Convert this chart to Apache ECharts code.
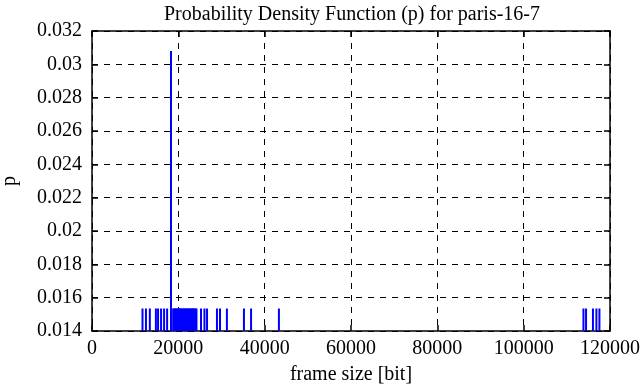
<!DOCTYPE html>
<html>
<head>
<meta charset="utf-8">
<script src="https://cdn.jsdelivr.net/npm/echarts@6/dist/echarts.min.js"></script>
<style>html,body{margin:0;padding:0;background:#fff}#c{width:641px;height:387px}</style>
</head>
<body>
<div id="c"></div>
<script>
// frame sizes [bit]
const frameSizes = [11700, 12500, 13400, 14800, 15300, 16000, 16700, 17400, 18300,
  18800, 19000, 19200, 19400, 19600, 19800, 20000, 20200, 20400, 20600, 20800,
  21000, 21200, 21400, 21600, 21800, 22000, 22200, 22400, 22600, 22800, 23000,
  23200, 23400, 23600, 23800, 24000, 24200,
  25250, 26050, 26650, 28950, 29650, 31250, 35200, 36850, 43300,
  113850, 114450, 116050, 116850, 117550];
// probability for each frame size
const probs = [0.01535, 0.01535, 0.01535, 0.01535, 0.01535, 0.01535, 0.01535, 0.01535, 0.0308,
  0.01535, 0.01535, 0.01535, 0.01535, 0.01535, 0.01535, 0.01535, 0.01535, 0.01535, 0.01535, 0.01535,
  0.01535, 0.01535, 0.01535, 0.01535, 0.01535, 0.01535, 0.01535, 0.01535, 0.01535, 0.01535, 0.01535,
  0.01535, 0.01535, 0.01535, 0.01535, 0.01535, 0.01535,
  0.01535, 0.01535, 0.01535, 0.01535, 0.01535, 0.01535, 0.01535, 0.01535, 0.01535,
  0.01535, 0.01535, 0.01535, 0.01535, 0.01535];
const xTicks = [0, 20000, 40000, 60000, 80000, 100000, 120000];
const yTicks = [0.014, 0.016, 0.018, 0.02, 0.022, 0.024, 0.026, 0.028, 0.03, 0.032];

const FONT = 'Liberation Serif';
const FS = 20;
const chart = echarts.init(document.getElementById('c'), null, {renderer: 'canvas'});
const axisBase = {
  axisLine: {show: true, onZero: false, lineStyle: {color: '#000', width: 1.5}},
  axisTick: {show: true, inside: true, length: 6, lineStyle: {color: '#000', width: 1.5}},
};
chart.setOption({
  animation: false,
  title: {
    text: 'Probability Density Function (p) for paris-16-7',
    left: 347, top: 0, textAlign: 'center',
    textStyle: {fontFamily: FONT, fontSize: FS, fontWeight: 'normal', color: '#000'}
  },
  grid: {left: 92, right: 31, top: 31, bottom: 56, containLabel: false, outerBoundsMode: 'none'},
  xAxis: [{
    type: 'value', min: 0, max: 120000, interval: 20000,
    name: 'frame size [bit]', nameLocation: 'middle', nameGap: 34,
    nameTextStyle: {fontFamily: FONT, fontSize: FS, color: '#000'},
    ...axisBase,
    axisLabel: {fontFamily: FONT, fontSize: FS, color: '#000', margin: 8,
      formatter: v => xTicks.includes(v) ? String(v) : ''},
    splitLine: {show: true, lineStyle: {color: '#000', type: [6, 6], width: 1}}
  }, {
    type: 'value', min: 0, max: 120000, interval: 20000, position: 'top',
    ...axisBase, axisLabel: {show: false}, splitLine: {show: false}
  }],
  yAxis: [{
    type: 'value', min: 0.014, max: 0.032, interval: 0.002,
    name: 'p', nameLocation: 'middle', nameGap: 72, nameRotate: 90,
    nameTextStyle: {fontFamily: FONT, fontSize: FS, color: '#000'},
    ...axisBase,
    axisLabel: {fontFamily: FONT, fontSize: FS, color: '#000', margin: 10,
      formatter: v => { const t = yTicks.find(y => Math.abs(y - v) < 1e-9); return t === undefined ? '' : String(t); }},
    splitLine: {show: true, lineStyle: {color: '#000', type: [6, 6], width: 1}}
  }, {
    type: 'value', min: 0.014, max: 0.032, interval: 0.002, position: 'right',
    ...axisBase, axisLabel: {show: false}, splitLine: {show: false}
  }],
  series: [{
    type: 'bar',
    xAxisIndex: 0, yAxisIndex: 0,
    barWidth: 2,
    clip: true,
    itemStyle: {color: '#0000ff'},
    data: frameSizes.map((x, i) => [x, probs[i]])
  }]
});
</script>
</body>
</html>
